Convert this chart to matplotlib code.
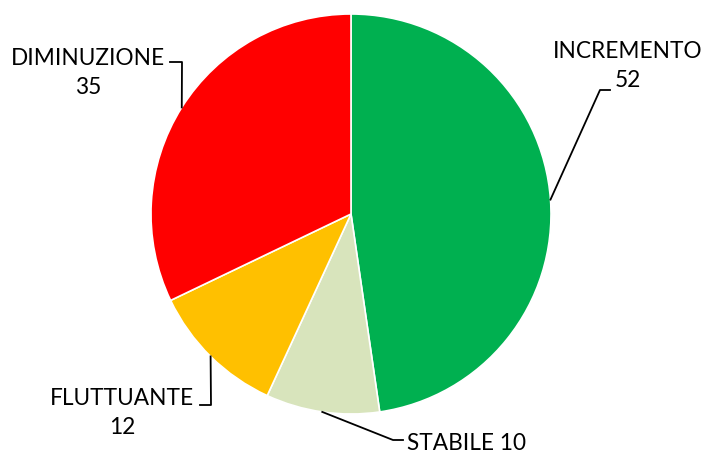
import numpy as np
import matplotlib.pyplot as plt

plt.rcParams['font.family'] = ['Lato', 'DejaVu Sans']

labels = ["INCREMENTO", "STABILE", "FLUTTUANTE", "DIMINUZIONE"]
values = [52, 10, 12, 35]
colors = ["#00B050", "#D8E4BC", "#FFC000", "#FF0000"]

W, H = 704, 455
cx, cy, r = 351, H - 214, 200

fig = plt.figure(figsize=(W / 100, H / 100), dpi=100)
ax = fig.add_axes([0, 0, 1, 1])
wedges, _ = ax.pie(values, colors=colors, startangle=90, counterclock=False,
                   center=(cx, cy), radius=r,
                   wedgeprops=dict(edgecolor="white", linewidth=1.2))
ax.set_xlim(0, W)
ax.set_ylim(0, H)
ax.set_aspect("equal")
ax.axis("off")

# leader line: elbow point, end point, text position, text, alignment
layout = {
    "INCREMENTO": ((600, 90), (610, 90), (628, 66), "INCREMENTO\n52", "center"),
    "STABILE": ((393, 440), (403, 440), (407, 443), "STABILE 10", "left"),
    "FLUTTUANTE": ((211, 405), (200, 405), (122, 413), "FLUTTUANTE\n12", "center"),
    "DIMINUZIONE": ((182, 62), (170, 62), (88, 73), "DIMINUZIONE\n35", "center"),
}

for w, lab in zip(wedges, labels):
    ang = np.deg2rad((w.theta1 + w.theta2) / 2)
    ax_x = cx + r * np.cos(ang)
    ax_y = cy + r * np.sin(ang)
    (ex, ey), (tx, ty), (px, py), txt, ha = layout[lab]
    ax.plot([ax_x, ex, tx], [ax_y, H - ey, H - ty], color="black", lw=1.3)
    ax.text(px, H - py, txt, ha=ha, va="center", fontsize=16.3,
            linespacing=1.42, color="black")

fig.savefig("out.png", dpi=100)
